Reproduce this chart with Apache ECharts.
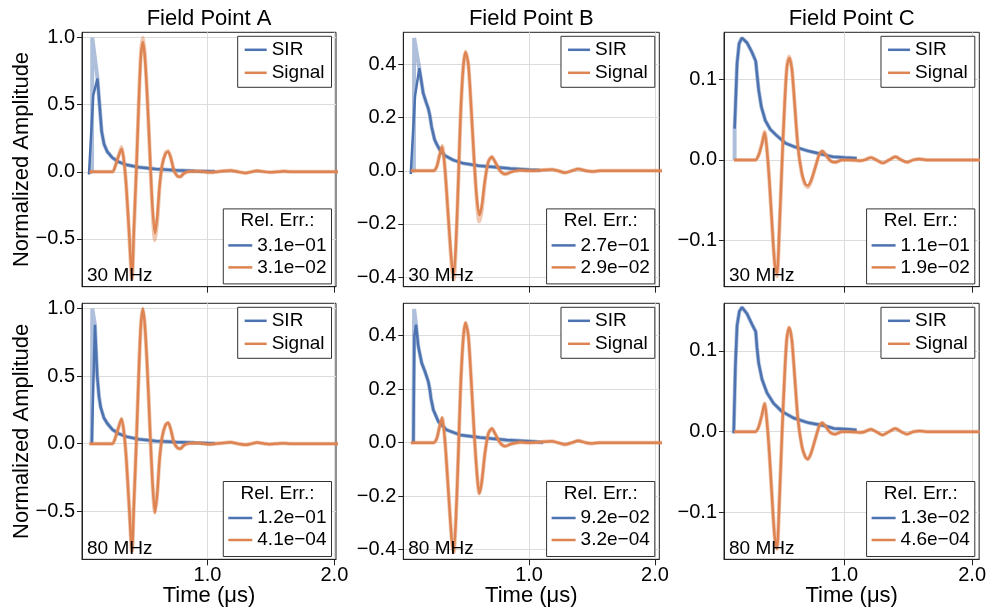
<!DOCTYPE html>
<html><head><meta charset="utf-8">
<script src="https://cdn.jsdelivr.net/npm/echarts@6/dist/echarts.min.js"></script>
<style>html,body{margin:0;padding:0;background:#fff}#c{width:989px;height:611px}</style>
</head><body><div id="c"></div>
<script>
// ---------------- DATA ----------------
const columnTitles = ['Field Point A', 'Field Point B', 'Field Point C'];
const rowFreqs = ['30 MHz', '80 MHz'];
const seriesNames = ['SIR', 'Signal'];
const legendTitle = 'Rel. Err.:';
const xTickValues = [1.0, 2.0];
const yTicksA = [-0.5, 0.0, 0.5, 1.0];
const yTicksB = [-0.4, -0.2, 0.0, 0.2, 0.4];
const yTicksC = [-0.1, 0.0, 0.1];
const xLimA = [0.011, 2.013], xLimB = [0.002, 2.034], xLimC = [0.06, 2.055];
const yLimA = [-0.857, 1.04], yLimB = [-0.436, 0.521], yLimC = [-0.158, 0.159];

// relative errors [SIR, Signal]  rows: 30 MHz, 80 MHz
const errA30 = ['3.1e\u221201', '3.1e\u221202'];
const errB30 = ['2.7e\u221201', '2.9e\u221202'];
const errC30 = ['1.1e\u221201', '1.9e\u221202'];
const errA80 = ['1.2e\u221201', '4.1e\u221204'];
const errB80 = ['9.2e\u221202', '3.2e\u221204'];
const errC80 = ['1.3e\u221202', '4.6e\u221204'];

// ---- Field point A ----
const sirA_30 = [[0.066,-0.02],[0.0995,0.57],[0.133,0.695],[0.166,0.30],[0.185,0.205],[0.21,0.15],[0.25,0.105],[0.30,0.074],[0.36,0.052],[0.46,0.033],[0.59,0.02],[0.75,0.012],[0.90,0.006],[1.06,0.002]];
const sirA_ref30Head = [[0.066,0],[0.090,0],[0.092,1.0],[0.133,0.695]];
const sirA_80 = [[0.088,0],[0.113,0.88],[0.131,0.50],[0.145,0.35],[0.158,0.27],[0.184,0.19],[0.21,0.15],[0.25,0.105],[0.30,0.074],[0.36,0.052],[0.46,0.033],[0.59,0.02],[0.75,0.012],[0.90,0.006],[1.06,0.002]];
const sirA_ref80Head = [[0.088,0],[0.091,0],[0.092,1.0],[0.113,0.88]];
const sigA_ref = [[0.07,0],[0.25,0],[0.276,0.05],[0.302,0.13],[0.323,0.185],[0.341,0.09],[0.36,-0.11],[0.381,-0.44],[0.405,-0.80],[0.42,-0.45],[0.439,0.0],[0.46,0.56],[0.475,0.88],[0.491,1.0],[0.507,0.87],[0.525,0.57],[0.544,0.17],[0.565,-0.26],[0.586,-0.51],[0.604,-0.37],[0.622,-0.12],[0.643,0.05],[0.67,0.14],[0.69,0.155],[0.712,0.10],[0.735,0.012],[0.761,-0.03],[0.785,-0.038],[0.814,-0.013],[0.853,0.002],[0.93,0.004],[1.02,-0.004],[1.10,0.003],[1.18,0.01],[1.24,0.0],[1.30,-0.009],[1.35,0.0],[1.39,0.008],[1.45,0.0],[1.49,-0.004],[1.55,0.0],[1.60,0.003],[1.66,0],[2.06,0]];
const sigA_30 = [[0.07,0],[0.25,0],[0.276,0.05],[0.302,0.125],[0.323,0.172],[0.341,0.085],[0.36,-0.11],[0.381,-0.43],[0.405,-0.80],[0.42,-0.43],[0.439,0.01],[0.46,0.55],[0.475,0.86],[0.491,0.968],[0.507,0.85],[0.525,0.56],[0.544,0.18],[0.565,-0.24],[0.586,-0.46],[0.604,-0.335],[0.622,-0.11],[0.643,0.05],[0.67,0.136],[0.69,0.15],[0.712,0.10],[0.735,0.012],[0.761,-0.03],[0.785,-0.037],[0.814,-0.012],[0.853,0.002],[0.93,0.004],[1.02,-0.004],[1.10,0.003],[1.18,0.01],[1.24,0.0],[1.30,-0.009],[1.35,0.0],[1.39,0.008],[1.45,0.0],[1.49,-0.004],[1.55,0.0],[1.60,0.003],[1.66,0],[2.06,0]];

// ---- Field point B ----
const sirB_30 = [[0.061,-0.012],[0.095,0.28],[0.129,0.386],[0.16,0.292],[0.182,0.259],[0.20,0.235],[0.212,0.21],[0.227,0.165],[0.25,0.118],[0.267,0.10],[0.293,0.078],[0.333,0.057],[0.40,0.04],[0.478,0.028],[0.60,0.019],[0.743,0.013],[0.85,0.009],[1.0,0.004],[1.09,0.002]];
const sirB_ref30Head = [[0.061,0],[0.086,0],[0.088,0.5],[0.129,0.386]];
const sirB_80 = [[0.082,0],[0.09,0.40],[0.103,0.441],[0.121,0.36],[0.148,0.298],[0.174,0.266],[0.20,0.229],[0.212,0.20],[0.222,0.165],[0.24,0.123],[0.28,0.079],[0.346,0.048],[0.452,0.029],[0.611,0.019],[0.822,0.01],[1.034,0.004],[1.113,0.001]];
const sirB_ref80Head = [[0.082,0],[0.086,0],[0.088,0.5],[0.103,0.441]];
const sigB_ref = [[0.062,0],[0.24,0],[0.267,0.015],[0.29,0.06],[0.31,0.093],[0.333,0.005],[0.359,-0.175],[0.386,-0.36],[0.402,-0.41],[0.42,-0.28],[0.439,-0.04],[0.457,0.21],[0.478,0.39],[0.496,0.448],[0.518,0.40],[0.539,0.25],[0.563,0.05],[0.584,-0.10],[0.605,-0.19],[0.624,-0.15],[0.65,-0.04],[0.677,0.034],[0.705,0.053],[0.73,0.034],[0.77,0.0],[0.81,-0.013],[0.862,-0.004],[0.928,0.002],[1.0,0.0],[1.08,0.002],[1.18,0.005],[1.23,0.0],[1.285,-0.007],[1.34,0.0],[1.39,0.007],[1.45,0.0],[1.50,-0.003],[1.56,0.0],[2.06,0]];
const sigB_30 = [[0.062,0],[0.24,0],[0.267,0.015],[0.29,0.058],[0.31,0.09],[0.333,0.004],[0.359,-0.172],[0.386,-0.347],[0.402,-0.397],[0.42,-0.272],[0.439,-0.035],[0.457,0.215],[0.478,0.39],[0.496,0.446],[0.518,0.402],[0.539,0.252],[0.563,0.052],[0.584,-0.097],[0.605,-0.166],[0.624,-0.135],[0.65,-0.035],[0.677,0.034],[0.705,0.052],[0.73,0.034],[0.77,0.0],[0.81,-0.0125],[0.862,-0.004],[0.928,0.002],[1.0,0.0],[1.08,0.002],[1.18,0.005],[1.23,0.0],[1.285,-0.007],[1.34,0.0],[1.39,0.007],[1.45,0.0],[1.50,-0.003],[1.56,0.0],[2.06,0]];

// ---- Field point C ----
const sirC_30 = [[0.143,0.039],[0.162,0.12],[0.178,0.145],[0.20,0.152],[0.24,0.146],[0.279,0.134],[0.308,0.123],[0.318,0.107],[0.331,0.087],[0.352,0.066],[0.383,0.049],[0.422,0.038],[0.474,0.03],[0.539,0.021],[0.617,0.016],[0.721,0.011],[0.826,0.007],[0.88,0.005],[0.91,0.004],[1.0,0.003],[1.097,0.002]];
const sirC_ref30Head = [[0.143,0]];
const sirC_80 = [[0.136,-0.002],[0.149,0.081],[0.162,0.131],[0.18,0.149],[0.20,0.154],[0.24,0.146],[0.279,0.133],[0.308,0.124],[0.318,0.104],[0.331,0.085],[0.357,0.065],[0.396,0.048],[0.448,0.035],[0.513,0.025],[0.604,0.017],[0.721,0.011],[0.826,0.008],[0.88,0.006],[0.917,0.004],[1.034,0.003],[1.097,0.002]];
const sigC_ref = [[0.138,0],[0.305,0],[0.331,0.006],[0.357,0.021],[0.378,0.035],[0.396,0.012],[0.414,-0.025],[0.435,-0.08],[0.456,-0.13],[0.474,-0.145],[0.492,-0.09],[0.513,-0.005],[0.534,0.07],[0.552,0.117],[0.57,0.129],[0.591,0.113],[0.612,0.07],[0.638,0.016],[0.669,-0.018],[0.695,-0.031],[0.716,-0.034],[0.742,-0.026],[0.774,-0.009],[0.805,0.007],[0.828,0.011],[0.852,0.007],[0.891,-0.001],[0.93,-0.003],[0.982,0],[1.034,0.0],[1.12,-0.001],[1.16,0.0],[1.208,0.003],[1.25,0.0],[1.30,-0.004],[1.35,0.0],[1.40,0.004],[1.445,0.0],[1.49,-0.003],[1.54,0.0],[1.59,0.001],[1.64,0],[2.06,0]];
const sigC_30 = [[0.138,0],[0.305,0],[0.331,0.006],[0.357,0.02],[0.378,0.034],[0.396,0.012],[0.414,-0.025],[0.435,-0.079],[0.456,-0.129],[0.474,-0.142],[0.492,-0.088],[0.513,-0.005],[0.534,0.07],[0.552,0.116],[0.57,0.127],[0.591,0.112],[0.612,0.07],[0.638,0.016],[0.669,-0.017],[0.695,-0.030],[0.716,-0.032],[0.742,-0.025],[0.774,-0.009],[0.805,0.007],[0.828,0.011],[0.852,0.007],[0.891,-0.001],[0.93,-0.003],[0.982,0],[1.034,0.0],[1.12,-0.001],[1.16,0.0],[1.208,0.003],[1.25,0.0],[1.30,-0.004],[1.35,0.0],[1.40,0.004],[1.445,0.0],[1.49,-0.003],[1.54,0.0],[1.59,0.001],[1.64,0],[2.06,0]];

// ---------------- BUILD ----------------
const FONT = '"Liberation Sans", Arial, Helvetica, sans-serif';
const BLUE = '#4C72B0', ORANGE = '#DD8452';
const W = 989, H = 611;
const colLeft = [82, 403.3, 724], colWidth = [254, 256, 255.3];
const rowTop = [32.3, 303.3], rowHeight = [254.4, 256];

const panels = [
  {sir: sirA_30, sirRef: sirA_ref30Head.concat(sirA_30.slice(3)), sig: sigA_30, sigRef: sigA_ref, err: errA30, xl: xLimA, yl: yLimA, yt: yTicksA},
  {sir: sirB_30, sirRef: sirB_ref30Head.concat(sirB_30.slice(3)), sig: sigB_30, sigRef: sigB_ref, err: errB30, xl: xLimB, yl: yLimB, yt: yTicksB},
  {sir: sirC_30, sirRef: sirC_ref30Head.concat(sirC_30), sig: sigC_30, sigRef: sigC_ref, err: errC30, xl: xLimC, yl: yLimC, yt: yTicksC},
  {sir: sirA_80, sirRef: sirA_ref80Head.concat(sirA_80.slice(2)), sig: sigA_ref, sigRef: sigA_ref, err: errA80, xl: xLimA, yl: yLimA, yt: yTicksA},
  {sir: sirB_80, sirRef: sirB_ref80Head.concat(sirB_80.slice(3)), sig: sigB_ref, sigRef: sigB_ref, err: errB80, xl: xLimB, yl: yLimB, yt: yTicksB},
  {sir: sirC_80, sirRef: sirC_80, sig: sigC_ref, sigRef: sigC_ref, err: errC80, xl: xLimC, yl: yLimC, yt: yTicksC}
];

const fmt = v => (Math.abs(v) < 1e-9 ? '0.0' : v.toFixed(1)).replace('-', '\u2212');

const grid = [], xAxis = [], yAxis = [], series = [], legend = [], graphic = [];
panels.forEach((p, i) => {
  const row = i < 3 ? 0 : 1, col = i % 3;
  const L = colLeft[col], T = rowTop[row], GW = colWidth[col], GH = rowHeight[row];
  const R = L + GW, B = T + GH;
  grid.push({left: L, top: T, width: GW, height: GH, show: true, borderColor: '#222', borderWidth: 1, backgroundColor: 'transparent'});
  xAxis.push({
    gridIndex: i, type: 'value', min: p.xl[0], max: p.xl[1],
    axisLine: {show: true, onZero: false, lineStyle: {color: '#222', width: 1}},
    axisTick: {show: true, inside: false, length: 6, customValues: xTickValues, lineStyle: {color: '#222'}},
    axisLabel: {show: row === 1, customValues: xTickValues, formatter: fmt, fontSize: 20, color: '#000', fontFamily: FONT, margin: 6},
    splitLine: {show: true, lineStyle: {color: '#dcdcdc', width: 1}}
  });
  yAxis.push({
    gridIndex: i, type: 'value', min: p.yl[0], max: p.yl[1],
    axisLine: {show: true, onZero: false, lineStyle: {color: '#222', width: 1}},
    axisTick: {show: true, inside: false, length: 5, customValues: p.yt, lineStyle: {color: '#222'}},
    axisLabel: {show: true, customValues: p.yt, formatter: fmt, fontSize: 20, color: '#000', fontFamily: FONT, margin: 7},
    splitLine: {show: true, lineStyle: {color: '#dcdcdc', width: 1}}
  });
  const base = {type: 'line', xAxisIndex: i, yAxisIndex: i, showSymbol: false, symbol: 'none', silent: true, animation: false, clip: true};
  series.push(Object.assign({}, base, {name: 'SIR ref', data: p.sirRef, itemStyle: {color: BLUE}, lineStyle: {color: BLUE, width: 4, opacity: 0.45}, z: 2}));
  series.push(Object.assign({}, base, {name: 'SIR', data: p.sir, itemStyle: {color: BLUE}, lineStyle: {color: BLUE, width: 2.5}, z: 3}));
  series.push(Object.assign({}, base, {name: 'Signal ref', data: p.sigRef, smooth: 0.25, itemStyle: {color: ORANGE}, lineStyle: {color: ORANGE, width: 4, opacity: 0.45}, z: 3}));
  series.push(Object.assign({}, base, {name: 'Signal', data: p.sig, smooth: 0.25, itemStyle: {color: ORANGE}, lineStyle: {color: ORANGE, width: 2.5}, z: 4}));
  series.push(Object.assign({}, base, {name: p.err[0], data: [], itemStyle: {color: BLUE}, lineStyle: {color: BLUE, width: 2.5}}));
  series.push(Object.assign({}, base, {name: p.err[1], data: [], itemStyle: {color: ORANGE}, lineStyle: {color: ORANGE, width: 2.5}}));

  const legBase = {orient: 'vertical', selectedMode: false, backgroundColor: '#fff', borderColor: '#333', borderWidth: 1, borderRadius: 0,
    icon: 'rect', itemHeight: 2.5, itemStyle: {borderWidth: 0},
    textStyle: {fontSize: 19, lineHeight: 19, color: '#000', fontFamily: FONT}, z: 10};
  legend.push(Object.assign({}, legBase, {data: seriesNames, right: W - (R - 4.5), top: T + 4, padding: [4, 7, 5, 7], itemWidth: 22, itemGap: 4}));
  const boxBottom = B - 2.8;
  legend.push(Object.assign({}, legBase, {data: p.err, right: W - (R - 4.5), bottom: H - boxBottom, padding: [27, 5, 7, 5], itemWidth: 24, itemGap: 3}));
  graphic.push({type: 'text', z: 100, x: (R - 4.5) - 54, y: boxBottom - 63,
    style: {text: legendTitle, fill: '#000', font: '19px ' + FONT, align: 'center', verticalAlign: 'middle'}});
  graphic.push({type: 'text', z: 100, x: L + 5, y: B - 10.5,
    style: {text: rowFreqs[row], fill: '#000', font: '19px ' + FONT, align: 'left', verticalAlign: 'middle'}});
  if (row === 0) {
    graphic.push({type: 'text', z: 100, x: L + GW / 2, y: 19,
      style: {text: columnTitles[col], fill: '#000', font: '22px ' + FONT, align: 'center', verticalAlign: 'middle'}});
  } else {
    graphic.push({type: 'text', z: 100, x: L + GW / 2, y: 596,
      style: {text: 'Time (\u03bcs)', fill: '#000', font: '22px ' + FONT, align: 'center', verticalAlign: 'middle'}});
  }
  if (col === 0) {
    graphic.push({type: 'text', z: 100, x: 22, y: T + GH / 2, rotation: Math.PI / 2,
      style: {text: 'Normalized Amplitude', fill: '#000', font: '22px ' + FONT, align: 'center', verticalAlign: 'middle'}});
  }
});

const chart = echarts.init(document.getElementById('c'), null, {renderer: 'canvas'});
chart.setOption({animation: false, backgroundColor: '#fff', grid, xAxis, yAxis, series, legend, graphic});
</script></body></html>
